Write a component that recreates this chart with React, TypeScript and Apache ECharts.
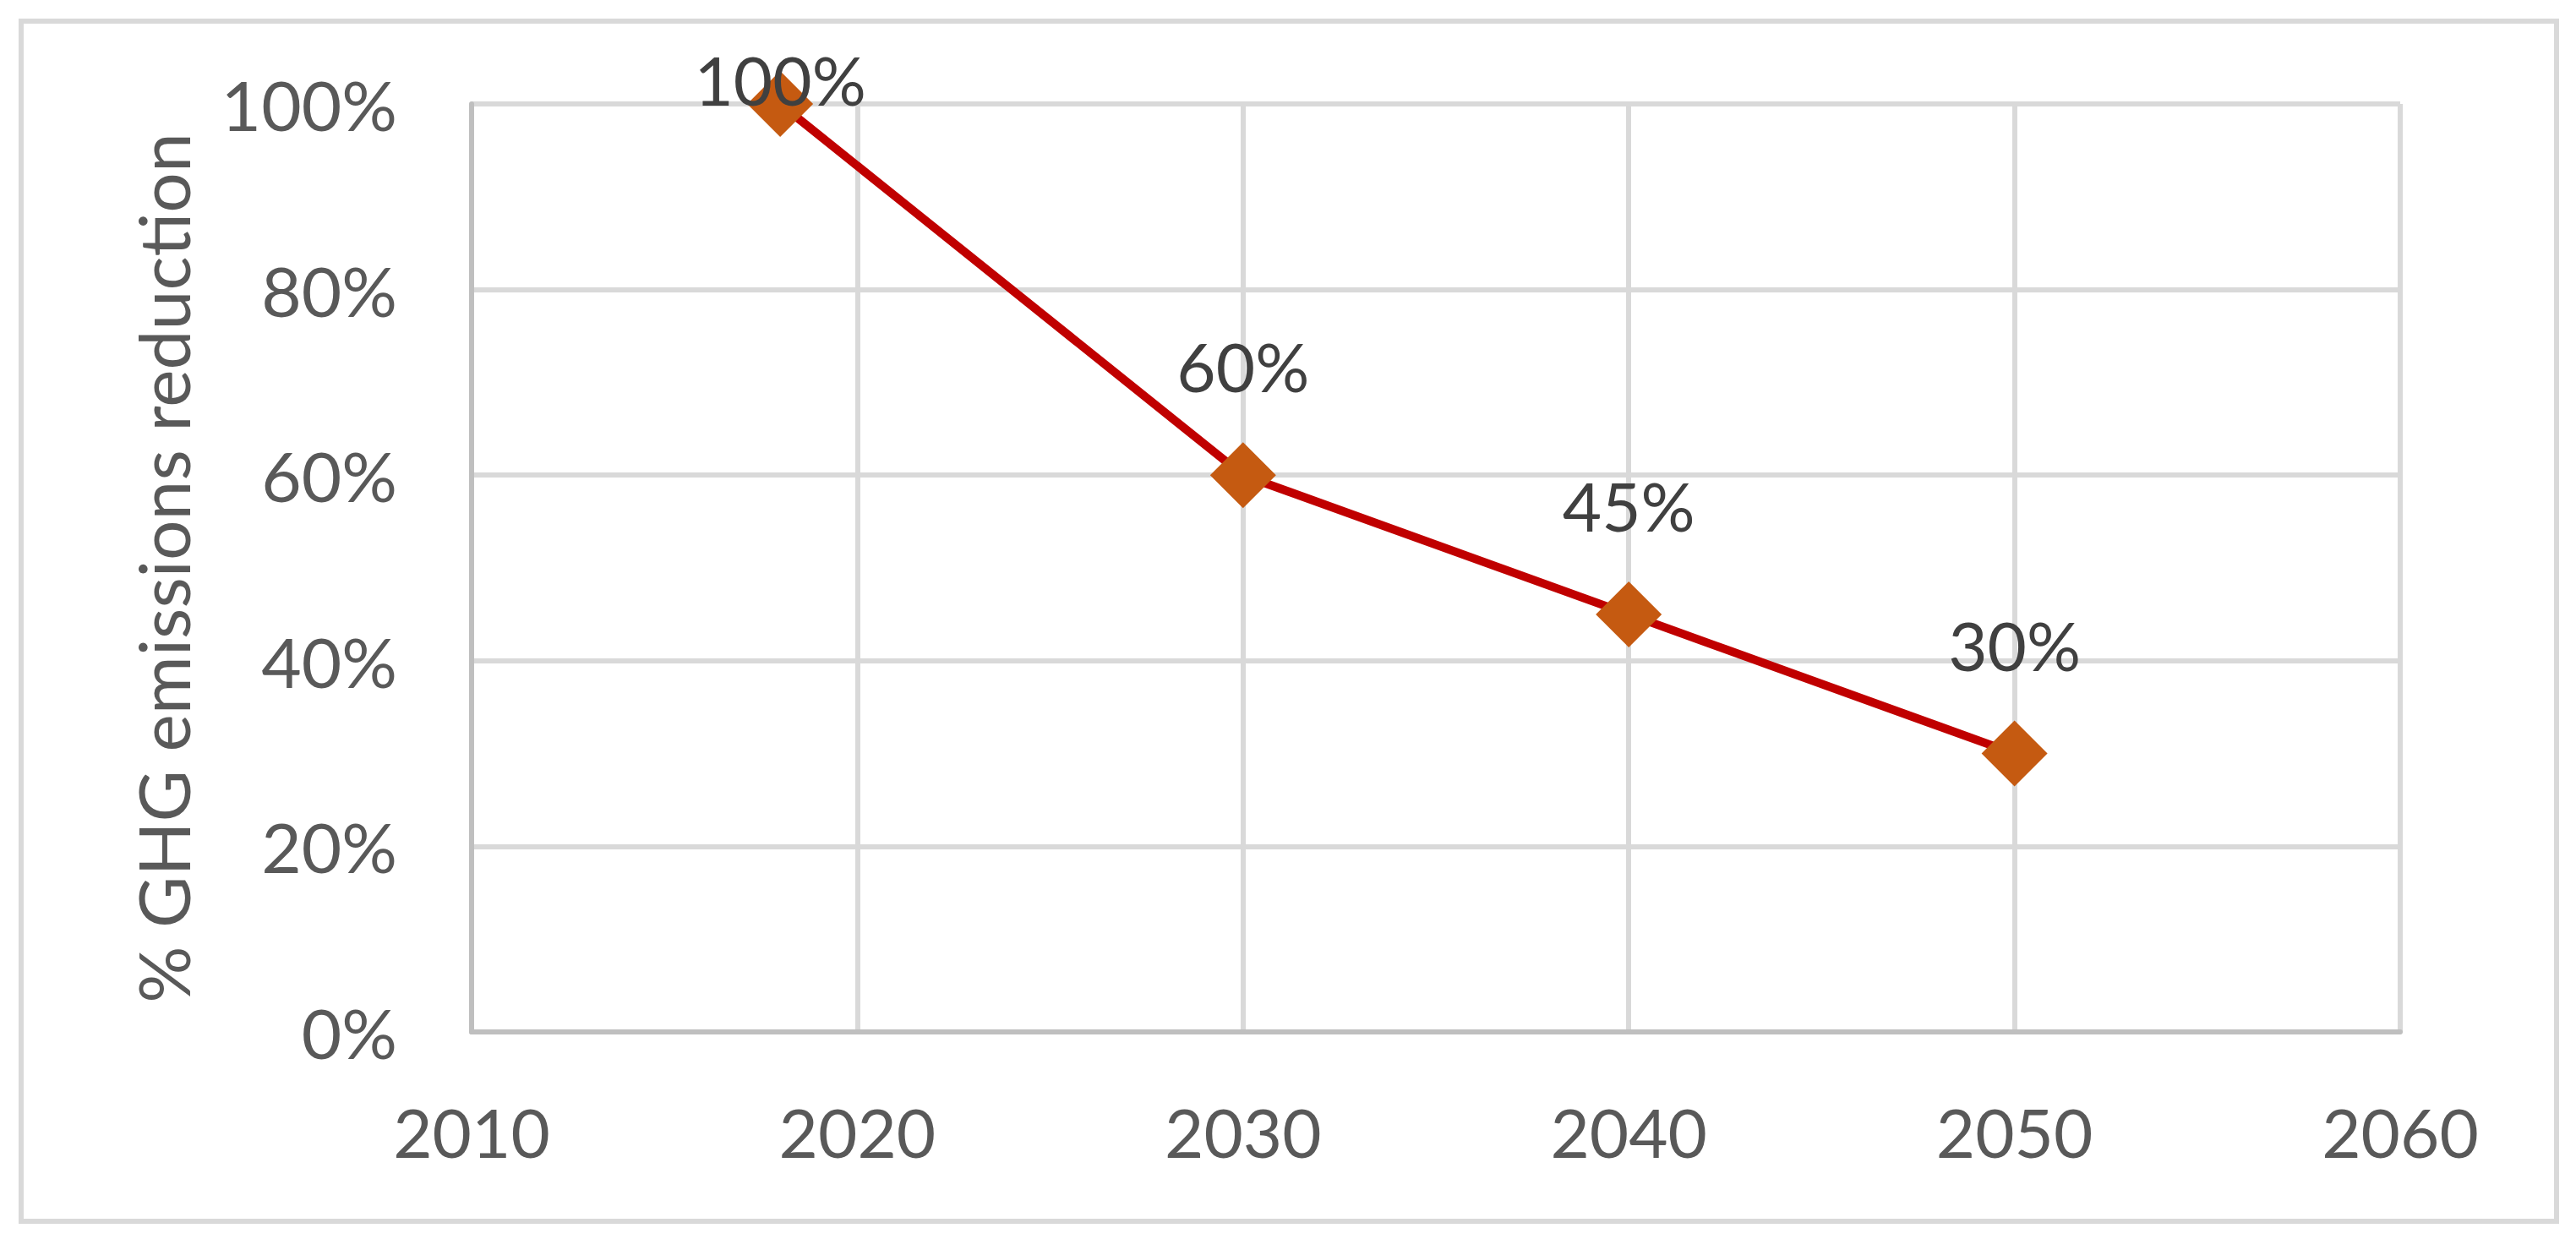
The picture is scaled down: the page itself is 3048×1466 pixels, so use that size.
import React, { useEffect, useRef } from "react";
import * as echarts from "echarts";

const years = [2018, 2030, 2040, 2050];
const reductions = [1.0, 0.6, 0.45, 0.3];
const pointLabels = ["100%", "60%", "45%", "30%"];
const labelDistances = [-50, 50, 50, 50];
const xMin = 2010;
const xMax = 2060;
const xStep = 10;
const yMin = 0;
const yMax = 1;
const yStep = 0.2;
const yTitle = "% GHG emissions reduction";

const FONT = "Lato, 'Noto Sans', sans-serif";

export default function App() {
  const ref = useRef<HTMLDivElement>(null);
  useEffect(() => {
    if (!ref.current) return;
    const chart = echarts.init(ref.current, undefined, { renderer: "svg" });
    const data = years.map((y, i) => ({
      value: [y, reductions[i]],
      label: { distance: labelDistances[i], formatter: pointLabels[i] },
    }));
    chart.setOption({
      animation: false,
      backgroundColor: "#ffffff",
      grid: { left: 558, top: 123, width: 2282, height: 1098, containLabel: false },
      xAxis: {
        type: "value",
        min: xMin,
        max: xMax,
        interval: xStep,
        axisLine: { show: true, lineStyle: { color: "#bfbfbf", width: 6 } },
        axisTick: { show: false },
        splitLine: { show: true, lineStyle: { color: "#d9d9d9", width: 6 } },
        axisLabel: {
          color: "#595959",
          fontSize: 80,
          fontFamily: FONT,
          margin: 78,
          formatter: (v: number) => String(v),
        },
      },
      yAxis: {
        type: "value",
        min: yMin,
        max: yMax,
        interval: yStep,
        axisLine: { show: true, lineStyle: { color: "#bfbfbf", width: 6 } },
        axisTick: { show: false },
        splitLine: { show: true, lineStyle: { color: "#d9d9d9", width: 6 } },
        axisLabel: {
          color: "#595959",
          fontSize: 82,
          fontFamily: FONT,
          margin: 88,
          formatter: (v: number) => Math.round(v * 100) + "%",
        },
      },
      graphic: [
        {
          type: "rect",
          shape: { x: 25, y: 25, width: 3000, height: 1420 },
          style: { fill: "none", stroke: "#d9d9d9", lineWidth: 6 },
          z: 100,
        },
        {
          type: "text",
          x: 192,
          y: 672,
          rotation: Math.PI / 2,
          style: {
            text: yTitle,
            fill: "#595959",
            font: "84px " + FONT,
            align: "center",
            verticalAlign: "middle",
          },
        },
      ],
      series: [
        {
          type: "line",
          data,
          clip: false,
          symbol: "diamond",
          symbolSize: 78,
          lineStyle: { color: "#c00000", width: 10 },
          itemStyle: { color: "#c55a11" },
          label: {
            show: true,
            position: "top",
            color: "#404040",
            fontSize: 80,
            fontFamily: FONT,
          },
          z: 10,
        },
      ],
    });
    return () => chart.dispose();
  }, []);
  return (
    <div
      ref={ref}
      style={{ position: "fixed", left: 0, top: 0, width: 3048, height: 1466 }}
    />
  );
}
